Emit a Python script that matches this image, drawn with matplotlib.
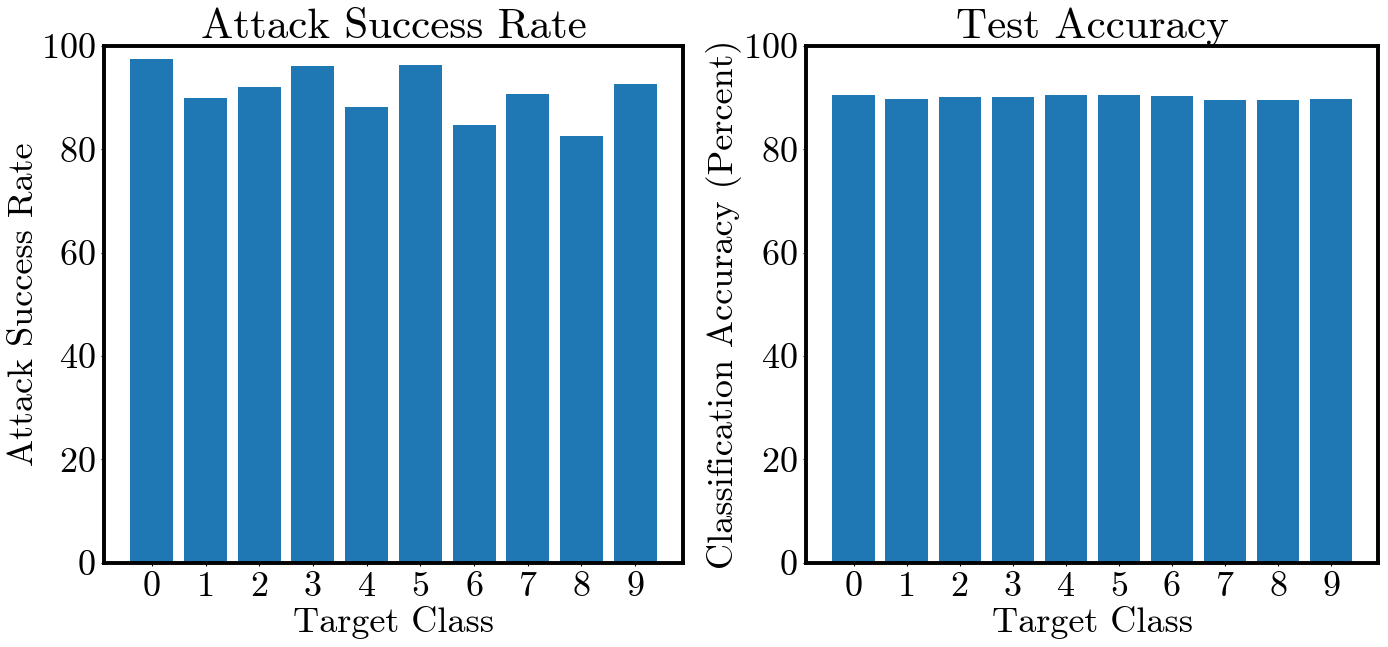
import matplotlib
matplotlib.use("Agg")
import matplotlib.pyplot as plt

classes = [0, 1, 2, 3, 4, 5, 6, 7, 8, 9]
attack_success = [97.4, 90.0, 92.0, 96.1, 88.1, 96.4, 84.8, 90.7, 82.5, 92.6]
test_accuracy = [90.6, 89.7, 90.1, 90.1, 90.6, 90.6, 90.3, 89.5, 89.5, 89.7]

plt.rcParams['font.family'] = ['cmr10', 'DejaVu Serif']
plt.rcParams['axes.formatter.use_mathtext'] = True
plt.rcParams['mathtext.fontset'] = 'cm'

fig = plt.figure(figsize=(13.88, 6.47), dpi=100)
ax1 = fig.add_axes([0.075, 0.130, 0.417, 0.799])
ax2 = fig.add_axes([0.581, 0.130, 0.412, 0.799])

panels = [
    (ax1, attack_success, "Attack Success Rate", "Attack Success Rate"),
    (ax2, test_accuracy, "Test Accuracy", "Classification Accuracy (Percent)"),
]
for ax, vals, title, ylabel in panels:
    ax.bar(classes, vals, width=0.8, color="#1f77b4")
    ax.set_ylim(0, 100)
    ax.set_yticks([0, 20, 40, 60, 80, 100])
    ax.set_xticks(classes)
    ax.set_xticklabels([str(c) for c in classes])
    ax.set_title(title, fontsize=31, pad=4)
    ax.set_xlabel("Target Class", fontsize=26, labelpad=2)
    ax.set_ylabel(ylabel, fontsize=26, labelpad=1)
    ax.tick_params(axis='both', labelsize=26, length=2, width=0.8, pad=4)
    for s in ax.spines.values():
        s.set_linewidth(2.8)

fig.savefig("out.png", dpi=100)
